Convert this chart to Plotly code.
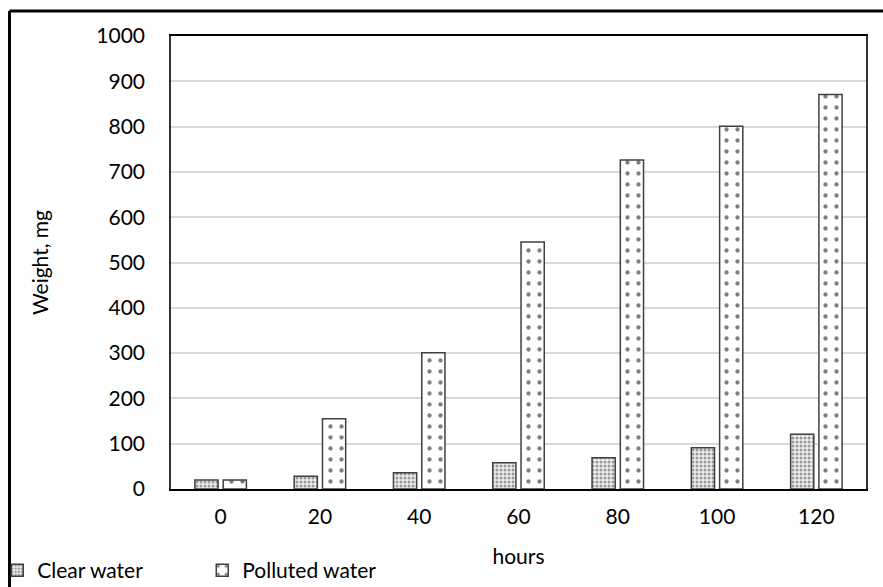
import plotly.graph_objects as go

hours = ["0", "20", "40", "60", "80", "100", "120"]
clear_water = [20, 28, 36, 58, 69, 91, 121]
polluted_water = [20, 155, 301, 545, 726, 801, 871]
y_ticks = list(range(0, 1001, 100))

FONT = "Lato"
FS = 21

fig = go.Figure()
fig.add_trace(go.Bar(
    x=hours, y=clear_water, name="Clear water",
    marker=dict(color="#f2f2f2", line=dict(color="#404040", width=1.5),
                pattern=dict(shape=".", size=4, solidity=0.45, fgcolor="#444444", bgcolor="#eeeeee")),
))
fig.add_trace(go.Bar(
    x=hours, y=polluted_water, name="Polluted water",
    marker=dict(color="white", line=dict(color="#404040", width=1.5),
                pattern=dict(shape=".", size=11, solidity=0.12, fgcolor="black", bgcolor="white")),
))

fig.update_layout(
    width=883, height=587,
    margin=dict(l=171, r=17, t=36, b=98, autoexpand=False),
    paper_bgcolor="white", plot_bgcolor="white",
    font=dict(family=FONT, size=FS, color="black"),
    barmode="group", bargap=0.43, bargroupgap=0.18,
    showlegend=True,
    legend=dict(orientation="h", x=-0.25, y=-0.18, xanchor="left", yanchor="middle",
                font=dict(size=FS), itemwidth=30, entrywidth=160, entrywidthmode="pixels",
                tracegroupgap=0, bgcolor="rgba(0,0,0,0)"),
    xaxis=dict(title=dict(text="hours", standoff=22, font=dict(size=FS)),
               showline=True, linecolor="black", linewidth=2, mirror=True,
               ticks="", tickfont=dict(size=FS), ticklabelstandoff=8),
    yaxis=dict(title=dict(text="Weight, mg", standoff=42, font=dict(size=FS)),
               range=[0, 1000], tickvals=y_ticks, showgrid=True, gridcolor="#d9d9d9", gridwidth=1.5,
               showline=True, linecolor="#333333", linewidth=1.5, mirror=True,
               ticks="", tickfont=dict(size=FS), ticklabelstandoff=20, zeroline=False),
)

# outer frame (left and top edges)
fig.add_shape(type="line", xref="paper", yref="paper",
              x0=(9.5 - 171) / 695, x1=(9.5 - 171) / 695, y0=(489 - 600) / 453, y1=(489 - 11) / 453,
              line=dict(color="black", width=3))
fig.add_shape(type="line", xref="paper", yref="paper",
              x0=(9.5 - 171) / 695, x1=(900 - 171) / 695, y0=(489 - 11) / 453, y1=(489 - 11) / 453,
              line=dict(color="black", width=3))

fig.write_html("out.html")
